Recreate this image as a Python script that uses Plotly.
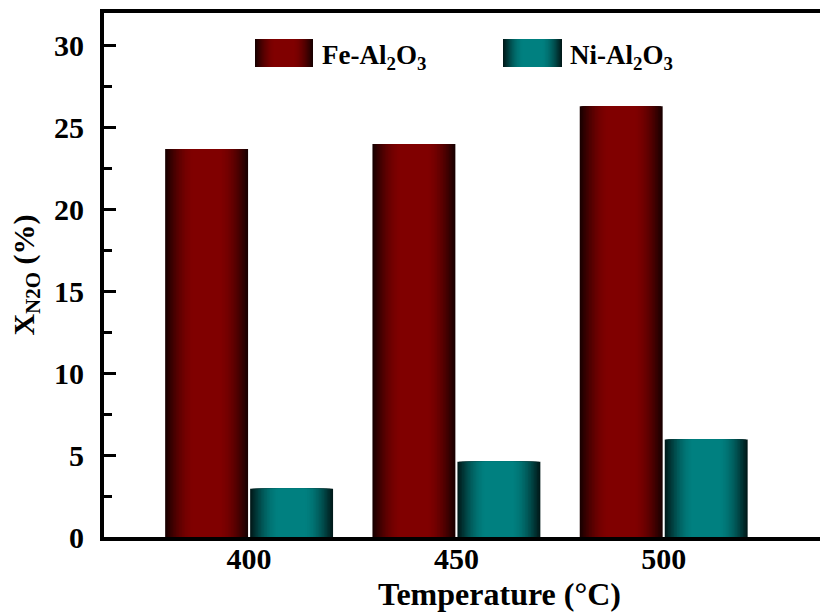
import plotly.graph_objects as go
import numpy as np

# ---- data ----
temps = ["400", "450", "500"]
fe_values = [23.7, 24.0, 26.3]
ni_values = [2.95, 4.6, 5.95]
series_names = ["Fe-Al<sub>2</sub>O<sub>3</sub>", "Ni-Al<sub>2</sub>O<sub>3</sub>"]
y_ticks = [0, 5, 10, 15, 20, 25, 30]

FONT = "Liberation Serif, Times New Roman, serif"
FE_CENTER, FE_EDGE = (128, 0, 0), (26, 0, 0)
NI_CENTER, NI_EDGE = (0, 128, 128), (0, 26, 26)

BAR_W = 0.40
LAYERS = 20
depths = np.linspace(1.0, 0.3, LAYERS)


def shade(center, edge, d):
    s = (d - 0.3) / 0.7
    k = np.cos(np.pi / 2 * s)
    return "rgb(%d,%d,%d)" % tuple(int(round(e + (c - e) * k)) for c, e in zip(center, edge))


fig = go.Figure()
for vals, off_c, c, e in [(fe_values, -0.205, FE_CENTER, FE_EDGE),
                          (ni_values, 0.205, NI_CENTER, NI_EDGE)]:
    for d in depths:
        w = BAR_W * d
        fig.add_trace(go.Bar(
            x=temps, y=vals, width=w, offset=off_c - w / 2,
            marker=dict(color=shade(c, e, d), line=dict(width=0)),
            showlegend=False, hoverinfo="skip"))

# ---- custom legend (large gradient swatches) ----
L, R, T, B = 104, 820, 13, 537
def px(x):
    return (x - L) / (R - L)
def py(y):
    return (B - y) / (B - T)

shapes = []
annotations = []
legend_items = [(255, 313, 320, FE_CENTER, FE_EDGE, series_names[0]),
                (503, 562, 568, NI_CENTER, NI_EDGE, series_names[1])]
for x0, x1, tx, c, e, name in legend_items:
    cx = (x0 + x1) / 2
    hw = (x1 - x0) / 2
    for d in depths:
        shapes.append(dict(type="rect", xref="paper", yref="paper",
                           x0=px(cx - hw * d), x1=px(cx + hw * d),
                           y0=py(67), y1=py(39),
                           fillcolor=shade(c, e, d), line=dict(width=0), layer="above"))
    annotations.append(dict(text=name, xref="paper", yref="paper", x=px(tx), y=py(57),
                            xanchor="left", yanchor="middle", showarrow=False,
                            font=dict(family=FONT, size=27, color="black", weight="bold")))

annotations.append(dict(text="Temperature (°C)", xref="paper", yref="paper",
                        x=px(499), y=py(594), xanchor="center", yanchor="middle",
                        showarrow=False,
                        font=dict(family=FONT, size=32, color="black", weight="bold")))

fig.update_layout(
    width=820, height=613,
    margin=dict(l=L, r=820 - R, t=T, b=613 - B),
    barmode="overlay",
    plot_bgcolor="white", paper_bgcolor="white",
    shapes=shapes, annotations=annotations,
    showlegend=False,
    font=dict(family=FONT, color="black"),
)
fig.update_xaxes(
    type="category", range=[-0.70, 2.754],
    showline=True, linewidth=4, linecolor="black", mirror=True,
    ticks="", ticklen=0, showgrid=False, zeroline=False,
    tickfont=dict(family=FONT, size=30, color="black", weight="bold"),
    ticklabelstandoff=-8,
)
fig.update_yaxes(
    range=[0, 32], tickvals=y_ticks,
    showline=True, linewidth=4, linecolor="black", mirror=False,
    ticks="inside", ticklen=12, tickwidth=3, tickcolor="black",
    minor=dict(dtick=2.5, ticks="inside", ticklen=8, tickwidth=3, tickcolor="black", showgrid=False),
    showgrid=False, zeroline=False,
    tickfont=dict(family=FONT, size=30, color="black", weight="bold"),
    ticklabelstandoff=10,
    title=dict(text="X<sub>N2O</sub> (%)", standoff=12,
               font=dict(family=FONT, size=30, color="black", weight="bold")),
)

fig.write_html("out.html")
